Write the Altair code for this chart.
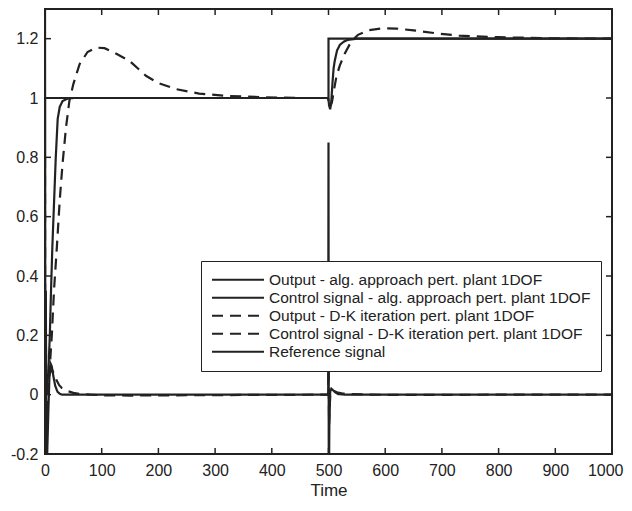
import altair as alt
import pandas as pd

INK = "#222222"
FONT = "Liberation Sans"

names = [
    "Output - alg. approach pert. plant 1DOF",
    "Control signal - alg. approach pert. plant 1DOF",
    "Output - D-K iteration pert. plant 1DOF",
    "Control signal - D-K iteration pert. plant 1DOF",
    "Reference signal",
]
dashes = [[1, 0], [1, 0], [11, 7], [11, 7], [1, 0]]

x_ticks = [0, 100, 200, 300, 400, 500, 600, 700, 800, 900, 1000]
y_ticks = [-0.2, 0, 0.2, 0.4, 0.6, 0.8, 1, 1.2]

# Output - algebraic approach
out_alg_t = [0, 3, 6, 8.5, 10.6, 13, 16, 19, 22.4, 26, 31, 40, 50, 100, 200, 300, 400,
             499, 500, 501, 503, 505, 507, 509, 511, 515, 520, 527, 534, 550, 600, 800, 1000]
out_alg_v = [0, 0.01, 0.08, 0.2, 0.35, 0.5, 0.65, 0.8, 0.93, 0.97, 0.99, 0.998, 1.0, 1.0, 1.0, 1.0, 1.0,
             1.0, 0.995, 0.975, 0.962, 0.99, 1.05, 1.1, 1.125, 1.16, 1.179, 1.19, 1.196, 1.2, 1.2, 1.2, 1.2]

# Control signal - algebraic approach
ctl_alg_t = [0, 0.5, 1.5, 2.5, 4, 6, 8, 10, 12, 15, 18, 22, 26, 30, 40, 100, 300,
             499.5, 500, 500.5, 501.5, 503, 505, 508, 512, 517, 530, 1000]
ctl_alg_v = [1.5, -0.4, 0.35, -0.3, -0.19, -0.05, 0.07, 0.104, 0.095, 0.06, 0.03, 0.01, 0.003, 0.0, 0.0, 0.0, 0.0,
             0.0, 0.85, -0.4, -0.1, 0.01, 0.02, 0.015, 0.008, 0.002, 0.0, 0.0]

# Output - D-K iteration
out_dk_t = [0, 5, 8, 12, 16, 21, 26, 31, 37, 43, 50, 61, 75, 90, 105, 125, 149, 178, 200, 231, 272, 320, 380, 450,
            499, 501, 503, 506, 510, 514, 520, 529, 540, 552, 570, 595, 620, 650, 690, 730, 800, 900, 1000]
out_dk_v = [0, 0.02, 0.08, 0.2, 0.355, 0.5, 0.656, 0.78, 0.9, 0.99, 1.047, 1.114, 1.155, 1.17, 1.168, 1.15, 1.125,
            1.075, 1.05, 1.03, 1.015, 1.007, 1.003, 1.0,
            1.0, 0.985, 0.97, 0.985, 1.03, 1.073, 1.11, 1.151, 1.19, 1.213, 1.228, 1.235, 1.234, 1.228, 1.218,
            1.21, 1.205, 1.201, 1.2]

# Control signal - D-K iteration
ctl_dk_t = [0, 0.5, 1.5, 3, 5, 8, 12, 16, 20, 25, 30, 35, 40, 50, 60, 80, 100, 150, 250, 350,
            499.5, 500, 501, 503, 506, 510, 515, 525, 540, 570, 650, 800, 1000]
ctl_dk_v = [0.8, -0.3, 0.2, -0.1, 0.0, 0.07, 0.085, 0.07, 0.05, 0.032, 0.022, 0.017, 0.012, 0.006, 0.003, 0.0,
            -0.002, -0.003, -0.002, -0.001,
            0.0, 0.15, -0.1, 0.0, 0.01, 0.012, 0.008, 0.004, 0.002, 0.0, -0.001, 0.0, 0.0]

# Reference signal
ref_t = [0, 0, 500, 500, 1000]
ref_v = [0, 1, 1, 1.2, 1.2]

series_data = [
    (names[0], out_alg_t, out_alg_v),
    (names[1], ctl_alg_t, ctl_alg_v),
    (names[2], out_dk_t, out_dk_v),
    (names[3], ctl_dk_t, ctl_dk_v),
    (names[4], ref_t, ref_v),
]
rows = []
for name, ts, vs in series_data:
    for i, (t, v) in enumerate(zip(ts, vs)):
        rows.append({"series": name, "t": t, "v": v, "i": i})
df = pd.DataFrame(rows)

W, H = 567, 445
TL = 6  # inner tick length

xscale = alt.Scale(domain=[0, 1000], nice=False, zero=False)
yscale = alt.Scale(domain=[-0.2, 1.3], nice=False, zero=False)
xaxis = alt.Axis(values=x_ticks, title="Time", ticks=False, domain=False, grid=False,
                 labelPadding=8, titlePadding=4, labelFontSize=16, titleFontSize=17,
                 labelFont=FONT, titleFont=FONT, labelColor=INK, titleColor=INK,
                 titleFontWeight="normal", labelFlush=False,
                 labelAlign={"condition": {"test": "datum.value >= 1000", "value": "right"}, "value": "center"},
                 labelOffset={"condition": {"test": "datum.value >= 1000", "value": 11}, "value": 0},
                 labelExpr="'' + datum.value")
yaxis = alt.Axis(values=y_ticks, title=None, ticks=False, domain=False, grid=False,
                 labelPadding=7, labelFontSize=16, labelFont=FONT, labelColor=INK,
                 labelExpr="'' + round(datum.value * 10) / 10", labelFlush=False)

lines = alt.Chart(df).mark_line(clip=True, strokeWidth=2.2, color=INK).encode(
    x=alt.X("t:Q", scale=xscale, axis=xaxis),
    y=alt.Y("v:Q", scale=yscale, axis=yaxis),
    strokeDash=alt.StrokeDash(
        "series:N",
        scale=alt.Scale(domain=names, range=dashes),
        sort=names,
        legend=alt.Legend(
            title=None, orient="none", legendX=156, legendY=252,
            strokeColor=INK, fillColor="white", padding=10,
            symbolType="stroke", symbolSize=2704, symbolStrokeWidth=2,
            symbolStrokeColor=INK, labelFontSize=15.5, labelFont=FONT,
            labelColor=INK, labelLimit=600, clipHeight=17.5, rowPadding=0,
            labelOffset=4,
        ),
    ),
    order=alt.Order("i:Q"),
)

xt = pd.DataFrame({"t": x_ticks})
yt = pd.DataFrame({"v": y_ticks})

xtick_bottom = alt.Chart(xt).mark_rule(strokeWidth=1.5, color=INK).encode(
    x=alt.X("t:Q", scale=xscale, axis=xaxis), y=alt.value(H), y2=alt.value(H - TL))
xtick_top = alt.Chart(xt).mark_rule(strokeWidth=1.5, color=INK).encode(
    x=alt.X("t:Q", scale=xscale, axis=xaxis), y=alt.value(0), y2=alt.value(TL))
ytick_left = alt.Chart(yt).mark_rule(strokeWidth=1.5, color=INK).encode(
    y=alt.Y("v:Q", scale=yscale, axis=yaxis), x=alt.value(0), x2=alt.value(TL))
ytick_right = alt.Chart(yt).mark_rule(strokeWidth=1.5, color=INK).encode(
    y=alt.Y("v:Q", scale=yscale, axis=yaxis), x=alt.value(W), x2=alt.value(W - TL))

chart = alt.layer(lines, xtick_bottom, xtick_top, ytick_left, ytick_right).properties(
    width=W, height=H,
    autosize=alt.AutoSizeParams(type="none"),
    padding={"left": 37, "top": 1, "right": 12, "bottom": 54},
    background="white",
).configure_view(stroke=INK, strokeWidth=2)

chart.save("out.html", embed_options={"renderer": "svg", "actions": False})
